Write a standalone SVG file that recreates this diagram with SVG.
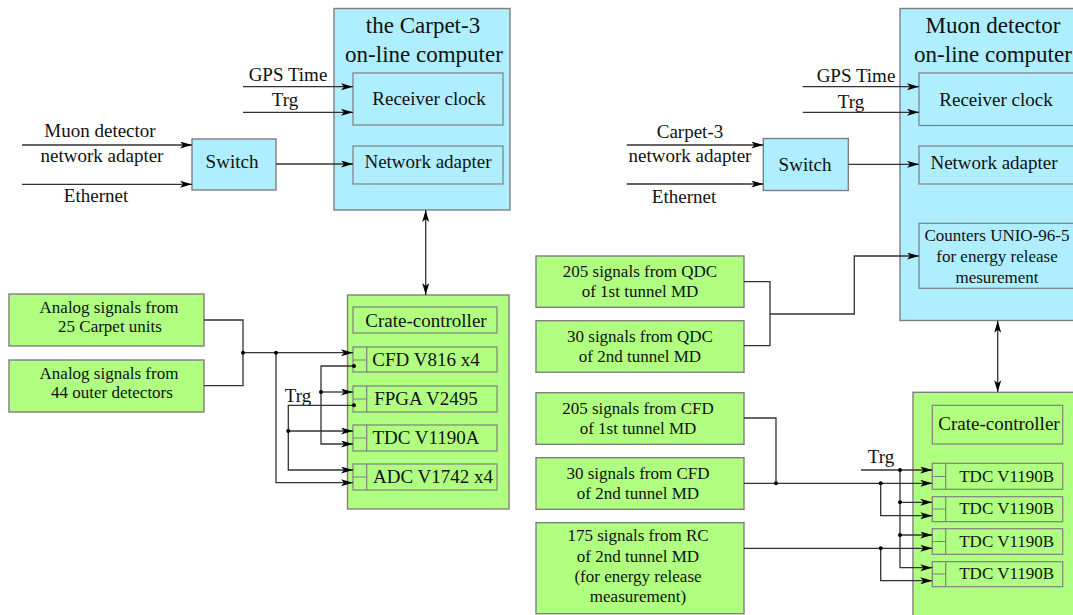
<svg xmlns="http://www.w3.org/2000/svg" width="1073" height="615" viewBox="0 0 1073 615">
<defs>
<marker id="ah" markerUnits="userSpaceOnUse" markerWidth="13" markerHeight="8" refX="12" refY="3.5" orient="auto-start-reverse">
<path d="M0,0 L12,3.5 L0,7 L3,3.5 z" fill="#000"/>
</marker>
<style>
.t{font-family:"Liberation Serif","Times New Roman",serif;fill:#111;text-anchor:middle}
.f19{font-size:19px}.f23{font-size:23px}.f17{font-size:17px}
.blue{fill:#aeeeff;stroke:#7f7f7f;stroke-width:1.4}
.green{fill:#b0ff80;stroke:#7f7f7f;stroke-width:1.4}
.inner{fill:none;stroke:#7f7f7f;stroke-width:1.2}
.w{fill:none;stroke:#333;stroke-width:1.3}
.a{marker-end:url(#ah)}
.b{marker-start:url(#ah);marker-end:url(#ah)}
.d{fill:#000}
</style>
</defs>

<g id="carpet-computer">
<rect class="blue" x="334" y="8.5" width="176" height="201.5"/>
<text class="t f23" x="423" y="33">the Carpet-3</text>
<text class="t f23" x="424" y="62">on-line computer</text>
<rect class="inner" x="353" y="73" width="150" height="52"/>
<text class="t f19" x="429" y="105">Receiver clock</text>
<rect class="inner" x="353" y="146" width="150" height="38"/>
<text class="t f19" x="428" y="168">Network adapter</text>
</g>

<g id="switch-left">
<rect class="blue" x="192" y="139" width="84" height="51"/>
<text class="t f19" x="232" y="168">Switch</text>
</g>

<g id="labels-left">
<text class="t f19" x="288" y="81">GPS Time</text>
<text class="t f19" x="285" y="106">Trg</text>
<text class="t f19" x="100" y="137">Muon detector</text>
<text class="t f19" x="102" y="162">network adapter</text>
<text class="t f19" x="96" y="202">Ethernet</text>
<text class="t f19" x="298" y="402">Trg</text>
</g>

<g id="analog-carpet">
<rect class="green" x="9" y="294" width="195" height="52"/>
<text class="t f17" x="109" y="313">Analog signals from</text>
<text class="t f17" x="110" y="332">25 Carpet units</text>
</g>
<g id="analog-outer">
<rect class="green" x="9" y="360" width="195" height="52"/>
<text class="t f17" x="109" y="379">Analog signals from</text>
<text class="t f17" x="112" y="398">44 outer detectors</text>
</g>

<g id="crate-left">
<rect class="green" x="347.5" y="295" width="161.5" height="214"/>
<rect class="inner" x="353" y="307" width="144" height="26"/>
<text class="t f19" x="426" y="327">Crate-controller</text>
<rect class="inner" x="353" y="347" width="144" height="25"/>
<path class="inner" d="M366.7,347 V372 M353,360 H366.7"/>
<text class="t f19" x="426" y="366">CFD V816 x4</text>
<rect class="inner" x="353" y="386" width="144" height="26"/>
<path class="inner" d="M366.7,386 V412 M353,399 H366.7"/>
<text class="t f19" x="426" y="405">FPGA V2495</text>
<rect class="inner" x="353" y="425" width="144" height="26"/>
<path class="inner" d="M366.7,425 V451 M353,438 H366.7"/>
<text class="t f19" x="426" y="444">TDC V1190A</text>
<rect class="inner" x="353" y="464" width="144" height="26"/>
<path class="inner" d="M366.7,464 V490 M353,477 H366.7"/>
<text class="t f19" x="433" y="483">ADC V1742 x4</text>
</g>

<g id="muon-computer">
<rect class="blue" x="900" y="8.5" width="200" height="312"/>
<text class="t f23" x="993" y="33">Muon detector</text>
<text class="t f23" x="993" y="62">on-line computer</text>
<rect class="inner" x="919" y="73" width="200" height="52.5"/>
<text class="t f19" x="996" y="106">Receiver clock</text>
<rect class="inner" x="919" y="146" width="200" height="38"/>
<text class="t f19" x="994" y="169">Network adapter</text>
<rect class="inner" x="919" y="223.3" width="200" height="65"/>
<text class="t f17" x="997" y="241">Counters UNIO-96-5</text>
<text class="t f17" x="997" y="262">for energy release</text>
<text class="t f17" x="997" y="283">mesurement</text>
</g>

<g id="switch-right">
<rect class="blue" x="763.3" y="138.5" width="85" height="52"/>
<text class="t f19" x="805" y="171">Switch</text>
</g>

<g id="labels-right">
<text class="t f19" x="856" y="82">GPS Time</text>
<text class="t f19" x="851" y="108">Trg</text>
<text class="t f19" x="690" y="138">Carpet-3</text>
<text class="t f19" x="690" y="162">network adapter</text>
<text class="t f19" x="684" y="203">Ethernet</text>
<text class="t f19" x="881" y="463">Trg</text>
</g>

<g id="qdc-1">
<rect class="green" x="536" y="256" width="208" height="51.3"/>
<text class="t f17" x="640" y="277">205 signals from QDC</text>
<text class="t f17" x="640" y="297">of 1st tunnel MD</text>
</g>
<g id="qdc-2">
<rect class="green" x="536" y="320.7" width="208" height="51.5"/>
<text class="t f17" x="640" y="341.5">30 signals from QDC</text>
<text class="t f17" x="640" y="362">of 2nd tunnel MD</text>
</g>
<g id="cfd-1">
<rect class="green" x="536" y="392.7" width="208" height="51.6"/>
<text class="t f17" x="638" y="413.5">205 signals from CFD</text>
<text class="t f17" x="638" y="434">of 1st tunnel MD</text>
</g>
<g id="cfd-2">
<rect class="green" x="536" y="457.7" width="208" height="51.6"/>
<text class="t f17" x="638" y="478.5">30 signals from CFD</text>
<text class="t f17" x="638" y="499">of 2nd tunnel MD</text>
</g>
<g id="rc-2">
<rect class="green" x="536" y="522.7" width="208" height="91"/>
<text class="t f17" x="638" y="541">175 signals from RC</text>
<text class="t f17" x="638" y="561.5">of 2nd tunnel MD</text>
<text class="t f17" x="638" y="581.5">(for energy release</text>
<text class="t f17" x="638" y="601.5">measurement)</text>
</g>

<g id="crate-right">
<rect class="green" x="913" y="392.3" width="200" height="240"/>
<rect class="inner" x="932.3" y="405.3" width="130.4" height="38.7"/>
<text class="t f19" x="999" y="430">Crate-controller</text>
<rect class="inner" x="932.3" y="463.3" width="130.4" height="26"/>
<path class="inner" d="M945.7,463.3 V489.3 M932.3,476.5 H945.7"/>
<text class="t f17" x="1006.7" y="481.7">TDC V1190B</text>
<rect class="inner" x="932.3" y="496.7" width="130.4" height="25"/>
<path class="inner" d="M945.7,496.7 V521.7 M932.3,509 H945.7"/>
<text class="t f17" x="1006.7" y="514">TDC V1190B</text>
<rect class="inner" x="932.3" y="528.7" width="130.4" height="25.6"/>
<path class="inner" d="M945.7,528.7 V554.3 M932.3,541.5 H945.7"/>
<text class="t f17" x="1006.7" y="546.7">TDC V1190B</text>
<rect class="inner" x="932.3" y="561.7" width="130.4" height="25"/>
<path class="inner" d="M945.7,561.7 V586.7 M932.3,574 H945.7"/>
<text class="t f17" x="1006.7" y="579">TDC V1190B</text>
</g>

<g id="connectors">
<!-- left top -->
<path class="w a" d="M243,86.7 H353"/>
<path class="w a" d="M243,112.3 H353"/>
<path class="w a" d="M22,145 H192"/>
<path class="w a" d="M22,184.3 H192"/>
<path class="w a" d="M276,164 H353"/>
<path class="w b" d="M425.7,210 V295"/>
<!-- left bottom -->
<path class="w" d="M204,320 H243 V385.7 H204"/>
<path class="w a" d="M243,352.7 H353"/>
<path class="w a" d="M276,352.7 V482.7 H353"/>
<path class="w a" d="M354,366 H321 V444 H353"/>
<path class="w a" d="M321,392 H353"/>
<path class="w a" d="M354,405.3 H288.3 V470 H353"/>
<path class="w a" d="M288.3,431 H353"/>
<circle class="d" cx="243" cy="352.7" r="2"/>
<circle class="d" cx="276" cy="352.7" r="2"/>
<circle class="d" cx="354" cy="366" r="2"/>
<circle class="d" cx="321" cy="392" r="2"/>
<circle class="d" cx="354" cy="405.3" r="2"/>
<circle class="d" cx="288.3" cy="431" r="2"/>
<!-- right top -->
<path class="w a" d="M802.7,86.7 H919"/>
<path class="w a" d="M802.7,112.3 H919"/>
<path class="w a" d="M626.7,145 H763.3"/>
<path class="w a" d="M626.7,184 H763.3"/>
<path class="w a" d="M848.3,164.3 H919"/>
<path class="w" d="M744,281.7 H770 V345.7 H744"/>
<path class="w a" d="M770,314 H854.3 V256 H919"/>
<path class="w b" d="M997.7,320.7 V392.3"/>
<!-- right bottom -->
<path class="w" d="M744,418 H776 V483.3"/>
<path class="w a" d="M744,483.3 H932.3"/>
<path class="w a" d="M880.7,483.3 V515.7 H932.3"/>
<path class="w a" d="M744,548.3 H932.3"/>
<path class="w a" d="M880.7,548.3 V580.7 H932.3"/>
<path class="w a" d="M861,470 H932.3"/>
<path class="w a" d="M900,470 V567.7 H932.3"/>
<path class="w a" d="M900,502.3 H932.3"/>
<path class="w a" d="M900,535 H932.3"/>
<circle class="d" cx="776" cy="483.3" r="2"/>
<circle class="d" cx="880.7" cy="483.3" r="2"/>
<circle class="d" cx="880.7" cy="548.3" r="2"/>
<circle class="d" cx="900" cy="470" r="2"/>
<circle class="d" cx="900" cy="502.3" r="2"/>
<circle class="d" cx="900" cy="535" r="2"/>
</g>
</svg>
